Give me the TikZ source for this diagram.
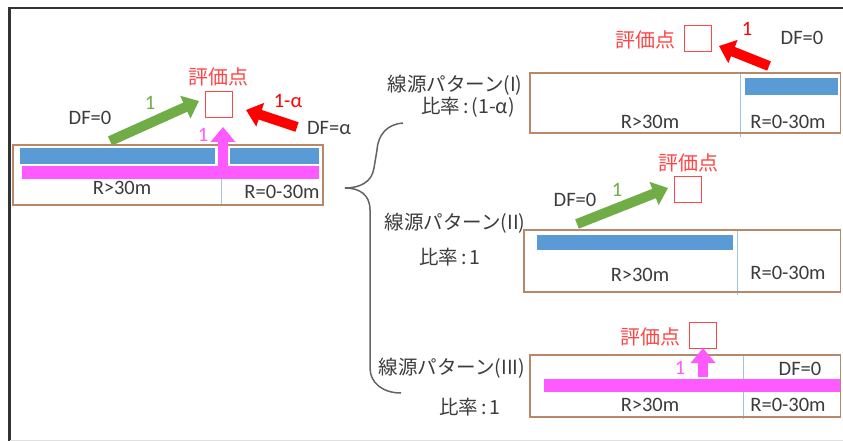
\documentclass[tikz,border=0pt]{standalone}
\usepackage{fontspec}
\setmainfont{Carlito}
\newfontfamily\jp{Noto Sans CJK JP}
\usetikzlibrary{arrows.meta}
\definecolor{cgreen}{RGB}{112,173,71}
\definecolor{cred}{RGB}{255,0,0}
\definecolor{cevred}{RGB}{255,70,70}
\definecolor{cpink}{RGB}{255,90,255}
\definecolor{cblue}{RGB}{91,155,213}
\definecolor{cvline}{RGB}{157,195,230}
\definecolor{cbrown}{RGB}{185,135,105}
\definecolor{ctext}{RGB}{60,60,60}
\definecolor{cbrace}{RGB}{100,100,100}
\newcommand{\rcolon}{\hspace{3pt}:\hspace{3pt}}
\tikzset{
  lat/.style={font=\fontsize{20.5}{22}\selectfont, text=ctext, inner sep=0pt},
  jplab/.style={font=\jp\fontsize{19.5}{22}\selectfont, text=ctext, inner sep=0pt},
  evlab/.style={font=\jp\fontsize{20}{22}\selectfont, text=cevred, inner sep=0pt},
  evalsq/.style={draw=cevred, line width=1pt, minimum width=27pt, minimum height=26pt, inner sep=0pt},
  panelbox/.style={draw=cbrown, line width=1.5pt},
  vline/.style={draw=cvline, line width=1pt},
  fatarrow/.style={line width=10pt, -{Triangle[length=15pt,width=24pt]}},
  numlab/.style={font=\fontsize{20.5}{22}\selectfont, inner sep=0pt},
}
\begin{document}
\begin{tikzpicture}[x=1pt,y=-1pt]
\useasboundingbox (0,0) rectangle (843,441);
\fill[white] (0,0) rectangle (843,441);
% frame
\draw[draw=black!80, line width=2.5pt] (9.5,441) -- (9.5,8) -- (843,8);
\draw[draw=black!12, line width=1pt] (9.5,440) -- (843,440);

% ---------- left panel ----------
\draw[vline] (221,145) -- (221,205);
\fill[cblue] (20,148) rectangle (215,164);
\fill[cblue] (228,148) rectangle (319,164);
\fill[cpink] (22,166) rectangle (319,179);
\draw[panelbox] (13,145) rectangle (323,205);
\node[lat] (l30) at (122,188) {R>30m};
\node[lat] (l030) at (282,192) {R=0-30m};
\node[evalsq] (e0) at (219,104.5) {};
\node[evlab] (e0l) at (218,77) {評価点};
\coordinate (g0s) at (110,141);
\coordinate (g0e) at (199,101);
\draw[fatarrow, draw=cgreen, fill=cgreen] (g0s) -- (g0e);
\node[numlab, text=cgreen] (g0n) at (150,103) {1};
\node[lat] (g0df) at (90,118) {DF=0};
\coordinate (r0s) at (297,127);
\coordinate (r0e) at (246,110);
\draw[fatarrow, draw=cred, fill=cred] (r0s) -- (r0e);
\node[numlab, text=cred] (r0n) at (288,101) {1-α};
\node[lat] (r0df) at (329,128) {DF=α};
\coordinate (p0s) at (223,166);
\coordinate (p0e) at (223,127);
\draw[white, line width=14pt] (223,148) -- (223,164);
\draw[fatarrow, draw=cpink, fill=cpink] (p0s) -- (p0e);
\node[numlab, text=cpink] (p0n) at (203,135) {1};

% ---------- brace ----------
\draw[cbrace, line width=1.5pt] (403,123) .. controls (388,124) and (378,134) .. (377,150)
  -- (374,168) .. controls (372,182) and (360,188) .. (345,188)
  .. controls (360,188) and (370,195) .. (370,210) -- (370,368)
  .. controls (370,383) and (383,393) .. (401,393);

% ---------- panel I ----------
\draw[vline] (740,73) -- (740,137);
\fill[cblue] (745,78) rectangle (838,95);
\draw[panelbox] (530,73) rectangle (840.5,133);
\node[lat] (a30) at (650,122) {R>30m};
\node[lat] (a030) at (788,122) {R=0-30m};
\node[evalsq] (e1) at (697.5,39) {};
\node[evlab] (e1l) at (645,40) {評価点};
\coordinate (r1s) at (769,66);
\coordinate (r1e) at (719,46);
\draw[fatarrow, draw=cred, fill=cred] (r1s) -- (r1e);
\node[numlab, text=cred] (r1n) at (747,29) {1};
\node[lat] (r1df) at (802,38) {DF=0};
\node[jplab] (a1) at (455,85) {線源パターン(I)};
\node[jplab] (a2) at (468,107) {比率\rcolon(1-α)};

% ---------- panel II ----------
\draw[vline] (737,230) -- (737,295);
\fill[cblue] (537,235) rectangle (733,250);
\draw[panelbox] (524,230) rectangle (840.5,292);
\node[lat] (b30) at (640,275) {R>30m};
\node[lat] (b030) at (788,273) {R=0-30m};
\node[evalsq] (e2) at (687.5,189) {};
\node[evlab] (e2l) at (688,163) {評価点};
\coordinate (g2s) at (577,224);
\coordinate (g2e) at (668,188);
\draw[fatarrow, draw=cgreen, fill=cgreen] (g2s) -- (g2e);
\node[numlab, text=cgreen] (g2n) at (617,190) {1};
\node[lat] (g2df) at (575,200) {DF=0};
\node[jplab] (b1) at (455,223) {線源パターン(II)};
\node[jplab] (b2) at (450,257) {比率\rcolon1};

% ---------- panel III ----------
\draw[vline] (743,355) -- (743,419);
\fill[cpink] (544,379) rectangle (840,392);
\draw[panelbox] (530,355) rectangle (840.5,417);
\node[lat] (c30) at (650,405) {R>30m};
\node[lat] (c030) at (788,405) {R=0-30m};
\node[lat] (cdf) at (800,369) {DF=0};
\node[evalsq] (e3) at (703,335) {};
\node[evlab] (e3l) at (650,337) {評価点};
\coordinate (p3s) at (703,377);
\coordinate (p3e) at (703,348);
\draw[fatarrow, draw=cpink, fill=cpink] (p3s) -- (p3e);
\node[numlab, text=cpink] (p3n) at (680,368) {1};
\node[jplab] (c1) at (452,368) {線源パターン(III)};
\node[jplab] (c2) at (470,407) {比率\rcolon1};
\end{tikzpicture}
\end{document}
